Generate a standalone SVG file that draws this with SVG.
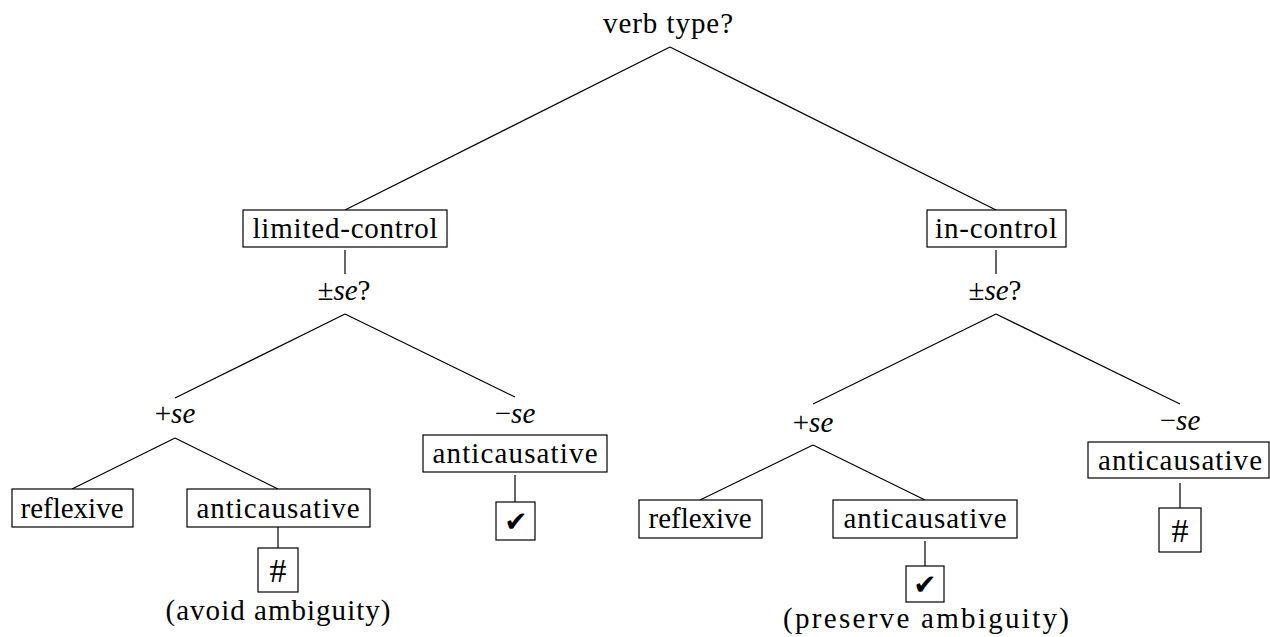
<svg xmlns="http://www.w3.org/2000/svg" width="1270" height="637" viewBox="0 0 1270 637">
<style>
  .t { font-family: 'Liberation Serif', 'DejaVu Serif', serif; font-size: 29px; fill: #000; text-anchor: middle; }
  .i { font-style: italic; }
  .h { font-family: 'Liberation Serif', 'DejaVu Serif', serif; font-size: 34px; fill: #000; text-anchor: middle; }
  .box { fill: #fff; stroke: #000; stroke-width: 1.2; }
  .edge { stroke: #000; stroke-width: 1.2; fill: none; }
  .chk { font-family: 'DejaVu Sans', sans-serif; font-size: 28px; text-anchor: middle; fill: #000; }
</style>
<rect width="1270" height="637" fill="#fff"/>
<g id="connectors">
  <line class="edge" x1="670" y1="47" x2="345" y2="210"/>
  <line class="edge" x1="670" y1="47" x2="996" y2="210"/>
  <line class="edge" x1="345" y1="250" x2="345" y2="274"/>
  <line class="edge" x1="996" y1="250" x2="996" y2="274"/>
  <line class="edge" x1="345" y1="314" x2="175" y2="398"/>
  <line class="edge" x1="345" y1="314" x2="515" y2="397"/>
  <line class="edge" x1="175" y1="438" x2="72" y2="489"/>
  <line class="edge" x1="175" y1="438" x2="278" y2="489"/>
  <line class="edge" x1="278" y1="527" x2="278" y2="548"/>
  <line class="edge" x1="515" y1="475" x2="515" y2="502"/>
  <line class="edge" x1="996" y1="314" x2="813" y2="404"/>
  <line class="edge" x1="996" y1="314" x2="1180" y2="404"/>
  <line class="edge" x1="813" y1="445" x2="700" y2="500"/>
  <line class="edge" x1="813" y1="445" x2="925" y2="500"/>
  <line class="edge" x1="925" y1="541" x2="925" y2="566"/>
  <line class="edge" x1="1180" y1="483" x2="1180" y2="508"/>
</g>
<g id="root"><text class="t" x="668" y="33" textLength="130">verb type?</text></g>
<g id="limited-control">
  <rect class="box" x="243" y="210" width="204" height="37"/>
  <text class="t" x="345" y="238" textLength="185">limited-control</text>
</g>
<g id="in-control">
  <rect class="box" x="927" y="210" width="139" height="37"/>
  <text class="t" x="996" y="238" textLength="122">in-control</text>
</g>
<g id="se-q-left"><text class="t" x="344" y="300">±<tspan class="i">se</tspan>?</text></g>
<g id="se-q-right"><text class="t" x="995" y="300">±<tspan class="i">se</tspan>?</text></g>
<g id="plus-se-left"><text class="t" x="175" y="423">+<tspan class="i">se</tspan></text></g>
<g id="minus-se-left"><text class="t" x="515" y="423">−<tspan class="i">se</tspan></text></g>
<g id="plus-se-right"><text class="t" x="813" y="432">+<tspan class="i">se</tspan></text></g>
<g id="minus-se-right"><text class="t" x="1180" y="430">−<tspan class="i">se</tspan></text></g>
<g id="reflexive-left">
  <rect class="box" x="12" y="489" width="121" height="38"/>
  <text class="t" x="72" y="518" textLength="103">reflexive</text>
</g>
<g id="anticausative-left-plus">
  <rect class="box" x="187" y="489" width="183" height="38"/>
  <text class="t" x="278" y="518" textLength="163">anticausative</text>
</g>
<g id="hash-left">
  <rect class="box" x="258" y="548" width="40" height="44"/>
  <text class="h" x="278" y="582">#</text>
</g>
<g id="note-left"><text class="t" x="278" y="620" textLength="225">(avoid ambiguity)</text></g>
<g id="anticausative-left-minus">
  <rect class="box" x="423" y="435" width="184" height="37"/>
  <text class="t" x="515" y="463" textLength="165">anticausative</text>
</g>
<g id="check-left">
  <rect class="box" x="496" y="502" width="39" height="38"/>
  <text class="chk" x="516" y="531">✔</text>
</g>
<g id="reflexive-right">
  <rect class="box" x="639" y="500" width="123" height="38"/>
  <text class="t" x="700" y="528" textLength="103">reflexive</text>
</g>
<g id="anticausative-right-plus">
  <rect class="box" x="833" y="500" width="184" height="38"/>
  <text class="t" x="925" y="528" textLength="163">anticausative</text>
</g>
<g id="check-right">
  <rect class="box" x="906" y="566" width="38" height="36"/>
  <text class="chk" x="925" y="594">✔</text>
</g>
<g id="note-right"><text class="t" x="926" y="628" textLength="286">(preserve ambiguity)</text></g>
<g id="anticausative-right-minus">
  <rect class="box" x="1088" y="442" width="181" height="36"/>
  <text class="t" x="1180" y="470" textLength="164">anticausative</text>
</g>
<g id="hash-right">
  <rect class="box" x="1159" y="508" width="42" height="44"/>
  <text class="h" x="1180" y="542">#</text>
</g>
</svg>
